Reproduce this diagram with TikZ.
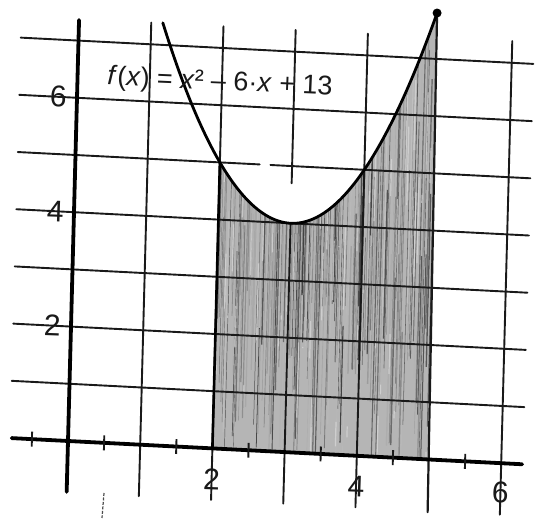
\documentclass[tikz,border=0pt]{standalone}
\usepackage{fontspec}
\setmainfont{Liberation Sans}
\begin{document}
\begin{tikzpicture}[x=1pt,y=1pt,
  gridline/.style={black!90, line width=1.9pt, line cap=round},
  axisline/.style={black, line width=3.8pt, line cap=round},
  curveline/.style={black, line width=2.8pt, line cap=round},
  lab/.style={font=\fontsize{30}{30}\selectfont, text=black!90, inner sep=0pt, rotate=-2},
  tickmark/.style={black!90, line width=1.9pt}]
\useasboundingbox (0,0) rectangle (539,529);
\fill[white] (0,0) rectangle (539,529);
\begin{scope}[shift={(68pt,88pt)}, x={(72.2pt,-3.7pt)}, y={(1.5pt,57.2pt)}]
  % shaded area
  \begin{scope}
    \clip (2,0) -- (2,5) -- plot[domain=2:4.95, samples=60] (\x,{\x*\x-6*\x+13}) -- (4.98,0) -- cycle;
    \fill[black!29] (1,-1) -- (6,-1) -- (6,9) -- (1,9) -- cycle;
    \pgfmathsetseed{42}
    \foreach \i in {0,...,150} {
      \pgfmathsetmacro\xx{2+\i*0.02+0.01*rnd}
      \pgfmathsetmacro\gg{int(25+50*rnd)}
      \pgfmathsetmacro\ww{0.3+1.2*rnd}
      \pgfmathsetmacro\ya{-0.2+3*rnd}
      \pgfmathsetmacro\yb{\ya+2+6*rnd}
      \draw[black!\gg, line width=\ww pt] (\xx,\ya) -- (\xx,\yb);
    }
    \foreach \i in {0,...,60} {
      \pgfmathsetmacro\xx{2+\i*0.05+0.03*rnd}
      \pgfmathsetmacro\ya{-0.2+6*rnd}
      \draw[black!12, line width=1.2pt, opacity=0.6] (\xx,\ya) -- (\xx,\ya+1.5*rnd);
    }
  \end{scope}
  % grid
  \foreach \y in {1,2,3,4,6,7} \draw[gridline] (-0.8,\y) -- (6.3,\y);
  \draw[gridline] (-0.8,5) -- (2.55,5) (2.7,5) -- (6.3,5);
  \foreach \x in {1,2,4,6} \draw[gridline] (\x,-0.9) -- (\x,7.38);
  \draw[gridline] (3,-0.9) -- (3,4) (3,4.7) -- (3,7.38);
  \draw[gridline, line width=2.2pt] (5,-0.92) -- (4.95,7.8);
  \draw[black, line width=2.6pt] (2,0) -- (2,5);
  % axes
  \draw[axisline] (-0.78,0) -- (6.29,0);
  \draw[axisline] (0,-0.89) -- (0,7.36);
  \foreach \x in {-0.5,0.5,1.5,2.5,3.5,4.5,5.5} \draw[tickmark] (\x,-0.13) -- (\x,0.13);
  % curve
  \draw[curveline] plot[domain=1.16:4.95, samples=80, smooth] (\x,{\x*\x-6*\x+13});
  \coordinate (top) at (4.95,7.8025);
  \fill[black] (top) circle (4.5pt);
  % labels
  \node[lab] (ly6) at (-0.26,6) {6};
  \node[lab] (ly4) at (-0.26,4) {4};
  \node[lab] (ly2) at (-0.26,2) {2};
  \node[lab] (lx2) at (2,-0.54) {2};
  \node[lab] (lx4) at (4,-0.54) {4};
  \node[lab] (lx6) at (6,-0.52) {6};
\end{scope}
\node[anchor=base west, font=\fontsize{27}{27}\selectfont, text=black!90, rotate=-2.5, inner sep=0pt] (formula) at (107pt,444pt)
  {\textit{f}(\textit{x}) = \textit{x}² – 6·\textit{x} + 13};
\draw[black!70, line width=1.2pt, dash pattern=on 3pt off 1.5pt] (104,36) -- (102,11);
\end{tikzpicture}
\end{document}
